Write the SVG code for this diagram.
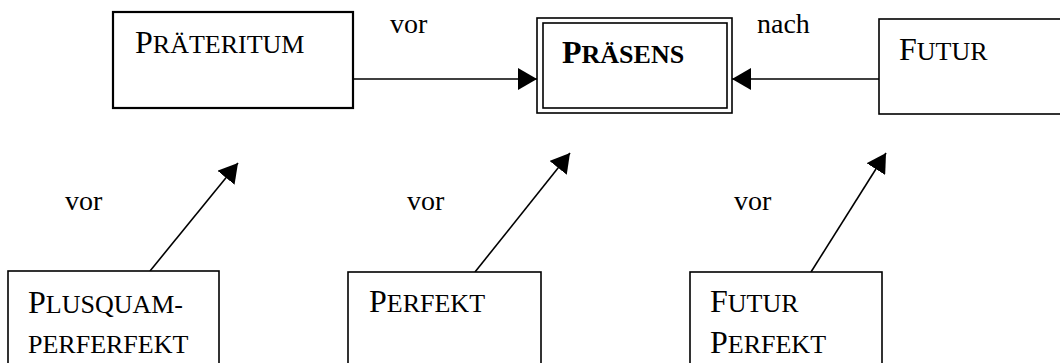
<svg xmlns="http://www.w3.org/2000/svg" width="1060" height="363" viewBox="0 0 1060 363">
  <style>
    .box { fill: #fff; stroke: #000; stroke-width: 1.6; }
    .thick { stroke-width: 2.2; }
    .edge { fill: none; stroke: #000; stroke-width: 1.6; }
    .lbl { font-family: "Liberation Serif", "Times New Roman", serif; fill: #000; }
    .cap { font-size: 32px; }
    .sc { font-size: 26px; }
    .word { font-family: "Liberation Serif", "Times New Roman", serif; font-size: 28px; fill: #000; }
  </style>
  <defs>
    <marker id="head" markerUnits="userSpaceOnUse" markerWidth="20" markerHeight="22" refX="19" refY="11" orient="auto">
      <path d="M0,0 L19,11 L0,22 Z" fill="#000"/>
    </marker>
  </defs>
  <rect width="1060" height="363" fill="#fff"/>

  <!-- connectors -->
  <g id="connectors">
    <line class="edge" x1="353" y1="79" x2="537" y2="79" marker-end="url(#head)"/>
    <line class="edge" x1="879" y1="79" x2="732" y2="79" marker-end="url(#head)"/>
    <line class="edge" x1="150" y1="271" x2="238" y2="163" marker-end="url(#head)"/>
    <line class="edge" x1="475" y1="272" x2="570" y2="153" marker-end="url(#head)"/>
    <line class="edge" x1="811" y1="272" x2="886" y2="153" marker-end="url(#head)"/>
    <text class="word" x="390" y="33">vor</text>
    <text class="word" x="757" y="33">nach</text>
    <text class="word" x="65" y="210">vor</text>
    <text class="word" x="407" y="210">vor</text>
    <text class="word" x="734" y="210">vor</text>
  </g>

  <g id="praeteritum">
    <rect class="box thick" x="113" y="12" width="240" height="96"/>
    <text class="lbl" x="135" y="53"><tspan class="cap">P</tspan><tspan class="sc">RÄTERITUM</tspan></text>
  </g>

  <g id="praesens">
    <rect class="box" x="537" y="18" width="195" height="95"/>
    <rect class="box" x="543" y="23" width="184" height="85"/>
    <text class="lbl" x="562" y="63" font-weight="bold"><tspan class="cap">P</tspan><tspan class="sc">RÄSENS</tspan></text>
  </g>

  <g id="futur">
    <rect class="box" x="879" y="19" width="200" height="95"/>
    <text class="lbl" x="899" y="60"><tspan class="cap">F</tspan><tspan class="sc">UTUR</tspan></text>
  </g>

  <g id="plusquamperfekt">
    <rect class="box" x="8" y="271" width="211" height="120"/>
    <text class="lbl" x="28" y="313"><tspan class="cap">P</tspan><tspan class="sc">LUSQUAM-</tspan></text>
    <text class="lbl sc" x="28" y="353">PERFERFEKT</text>
  </g>

  <g id="perfekt">
    <rect class="box" x="348" y="272" width="193" height="120"/>
    <text class="lbl" x="369" y="312"><tspan class="cap">P</tspan><tspan class="sc">ERFEKT</tspan></text>
  </g>

  <g id="futurperfekt">
    <rect class="box" x="690" y="272" width="192" height="120"/>
    <text class="lbl" x="710" y="312"><tspan class="cap">F</tspan><tspan class="sc">UTUR</tspan></text>
    <text class="lbl" x="710" y="353"><tspan class="cap">P</tspan><tspan class="sc">ERFEKT</tspan></text>
  </g>
</svg>
